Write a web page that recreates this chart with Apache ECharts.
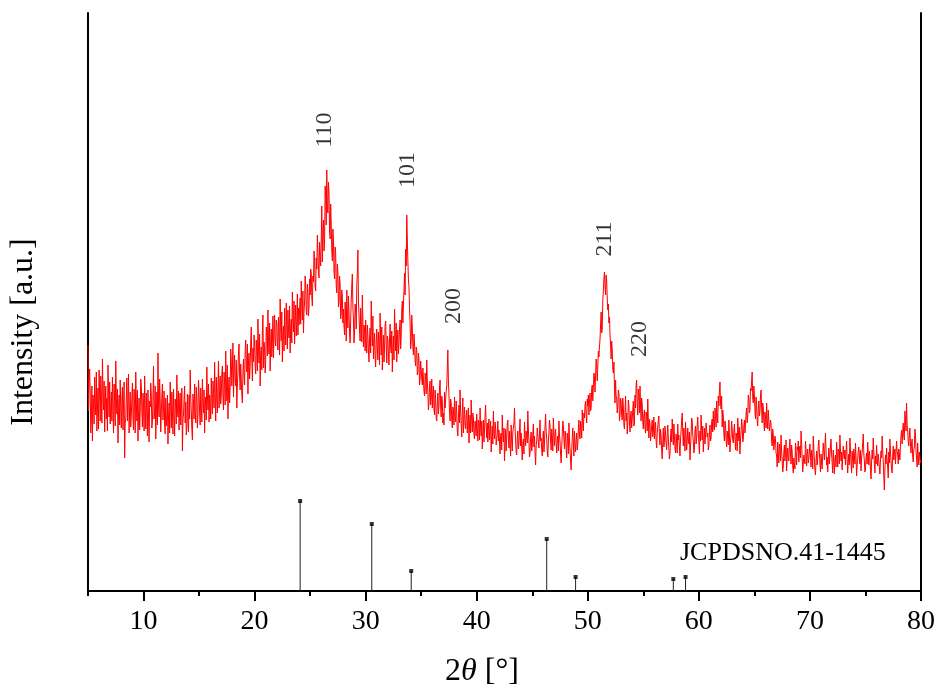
<!DOCTYPE html>
<html>
<head>
<meta charset="utf-8">
<script src="https://cdn.jsdelivr.net/npm/echarts@6/dist/echarts.min.js"></script>
<style>
  html, body { margin: 0; padding: 0; background: #fff; }
  #chart { width: 940px; height: 693px; }
</style>
</head>
<body>
<div id="chart"></div>
<script>
// XRD pattern, 2theta from 5 to 80 deg, one reading every 0.05 deg (one row = 1 deg)
var angleStart = 5;
var angleStep = 0.05;
var intensity = [
  246, 180, 208, 222, 195, 158, 172, 205, 150, 196, 188, 167, 214, 190, 176, 219, 160, 182, 203, 162,
  221, 197, 170, 215, 196, 168, 232, 199, 181, 210, 159, 184, 205, 172, 193, 160, 226, 201, 174, 209,
  167, 185, 199, 170, 214, 181, 158, 207, 190, 165, 230, 194, 177, 202, 148, 178, 196, 166, 211, 184,
  163, 192, 204, 161, 186, 209, 133, 168, 172, 195, 213, 170, 190, 217, 158, 183, 199, 164, 176, 193,
  208, 174, 161, 202, 185, 158, 219, 188, 170, 201, 150, 177, 193, 161, 178, 212, 206, 180, 164, 198,
  187, 160, 215, 184, 162, 198, 176, 155, 201, 173, 149, 190, 184, 208, 196, 163, 170, 194, 225, 172,
  181, 205, 152, 177, 199, 166, 238, 186, 174, 212, 190, 159, 160, 195, 207, 171, 183, 200, 166, 157,
  193, 165, 171, 196, 147, 174, 188, 158, 209, 185, 163, 199, 180, 157, 202, 178, 155, 192, 186, 167,
  216, 183, 174, 200, 161, 189, 198, 166, 182, 203, 140, 171, 177, 193, 205, 168, 189, 156, 165, 197,
  170, 159, 196, 172, 221, 193, 180, 162, 151, 197, 188, 172, 207, 181, 168, 204, 193, 163, 176, 211,
  199, 178, 166, 203, 185, 169, 212, 188, 178, 201, 158, 185, 194, 171, 224, 196, 181, 207, 169, 196,
  188, 172, 213, 193, 177, 210, 201, 183, 229, 197, 170, 214, 192, 178, 208, 230, 183, 199, 215, 187,
  196, 217, 225, 194, 181, 219, 208, 186, 240, 209, 190, 226, 172, 201, 214, 188, 203, 242, 231, 205,
  221, 248, 194, 220, 236, 210, 205, 231, 183, 207, 218, 239, 247, 215, 201, 227, 212, 196, 188, 219,
  232, 214, 206, 240, 251, 224, 219, 247, 197, 229, 238, 212, 226, 249, 264, 231, 210, 243, 229, 256,
  248, 226, 217, 251, 239, 220, 272, 243, 228, 257, 205, 236, 244, 221, 258, 276, 223, 249, 241, 218,
  230, 264, 256, 235, 281, 252, 237, 268, 220, 247, 262, 234, 249, 275, 233, 259, 276, 250, 245, 271,
  268, 249, 241, 274, 255, 236, 292, 263, 250, 279, 229, 256, 265, 240, 283, 257, 246, 288, 261, 242,
  281, 262, 253, 285, 238, 263, 272, 248, 299, 274, 259, 290, 247, 268, 286, 255, 270, 297, 256, 283,
  266, 281, 293, 267, 310, 286, 271, 300, 258, 279, 289, 315, 304, 280, 276, 307, 298, 275, 284, 312,
  296, 322, 318, 294, 285, 315, 309, 340, 331, 305, 300, 333, 322, 356, 341, 318, 313, 349, 336, 325,
  352, 385, 329, 361, 371, 340, 348, 405, 395, 366, 421, 382, 378, 409, 398, 360, 352, 387, 366, 341,
  330, 362, 351, 320, 312, 344, 338, 305, 298, 327, 319, 284, 289, 315, 306, 272, 277, 301, 295, 268,
  282, 265, 256, 289, 274, 250, 301, 277, 263, 295, 279, 257, 248, 271, 290, 306, 317, 284, 271, 248,
  259, 287, 280, 262, 305, 318, 341, 290, 276, 261, 250, 283, 268, 249, 296, 270, 244, 266, 262, 240,
  271, 251, 238, 266, 256, 240, 229, 252, 263, 238, 290, 262, 245, 275, 232, 247, 258, 233, 224, 249,
  262, 244, 231, 259, 249, 226, 278, 252, 236, 264, 221, 240, 256, 229, 243, 266, 270, 245, 228, 255,
  251, 236, 226, 252, 267, 244, 238, 260, 219, 243, 255, 231, 282, 258, 240, 268, 229, 250, 261, 237,
  248, 262, 271, 242, 256, 281, 290, 268, 286, 301, 318, 296, 342, 325, 376, 352, 330, 311, 304, 282,
  268, 242, 251, 276, 262, 245, 236, 257, 248, 230, 225, 244, 241, 216, 219, 238, 232, 206, 212, 230,
  228, 212, 206, 223, 221, 200, 195, 218, 214, 197, 231, 209, 199, 181, 188, 205, 210, 186, 194, 212,
  183, 196, 205, 182, 176, 201, 192, 173, 170, 189, 198, 177, 186, 203, 211, 185, 174, 195, 190, 168,
  178, 166, 199, 183, 182, 200, 205, 224, 241, 210, 196, 179, 170, 192, 188, 171, 163, 184, 181, 166,
  194, 176, 169, 190, 178, 160, 155, 174, 186, 168, 201, 180, 167, 154, 179, 193, 158, 172, 184, 166,
  162, 175, 181, 158, 170, 183, 148, 165, 176, 158, 191, 170, 159, 178, 173, 156, 152, 170, 168, 155,
  177, 162, 150, 171, 168, 151, 183, 164, 155, 170, 142, 158, 171, 149, 160, 175, 186, 165, 153, 168,
  149, 163, 172, 151, 158, 170, 139, 154, 165, 147, 180, 160, 152, 169, 163, 146, 144, 158, 170, 150,
  161, 149, 137, 155, 158, 141, 176, 157, 149, 163, 130, 146, 162, 140, 154, 167, 171, 152, 143, 160,
  148, 135, 166, 150, 140, 159, 157, 168, 183, 162, 151, 139, 136, 153, 160, 142, 147, 161, 172, 145,
  158, 143, 131, 148, 152, 137, 169, 155, 145, 160, 162, 148, 180, 161, 150, 134, 138, 153, 159, 140,
  146, 158, 167, 144, 155, 139, 126, 145, 150, 163, 164, 148, 143, 158, 171, 150, 153, 141, 135, 151,
  160, 139, 148, 165, 177, 159, 152, 140, 134, 150, 158, 171, 166, 149, 141, 162, 155, 140, 173, 156,
  145, 157, 162, 148, 138, 152, 155, 140, 170, 156, 149, 137, 128, 144, 157, 170, 164, 151, 142, 160,
  156, 142, 133, 158, 150, 137, 168, 152, 141, 130, 121, 140, 153, 163, 147, 135, 160, 149, 139, 150,
  158, 141, 146, 162, 171, 156, 152, 170, 165, 153, 181, 167, 160, 178, 173, 186, 190, 175, 168, 192,
  185, 196, 176, 189, 198, 180, 183, 202, 206, 190, 192, 218, 214, 199, 201, 232, 226, 210, 211, 240,
  234, 244, 252, 266, 279, 258, 262, 290, 301, 312, 319, 305, 296, 316, 310, 292, 281, 287, 268, 274,
  256, 247, 232, 250, 241, 222, 218, 229, 204, 188, 211, 195, 192, 178, 185, 201, 198, 170, 176, 193,
  190, 176, 171, 193, 184, 166, 162, 180, 195, 170, 178, 157, 167, 191, 186, 168, 159, 175, 180, 163,
  172, 181, 190, 165, 168, 196, 183, 207, 211, 188, 176, 202, 196, 178, 205, 184, 170, 193, 186, 169,
  162, 176, 181, 163, 158, 179, 175, 160, 192, 170, 153, 172, 167, 150, 148, 165, 171, 154, 160, 174,
  152, 164, 169, 150, 143, 158, 160, 171, 175, 155, 146, 162, 155, 141, 132, 149, 163, 144, 150, 165,
  158, 147, 141, 156, 166, 152, 150, 132, 137, 154, 162, 149, 172, 158, 146, 167, 155, 143, 138, 157,
  149, 138, 167, 151, 156, 143, 135, 152, 160, 171, 178, 158, 145, 163, 152, 140, 169, 155, 141, 150,
  163, 152, 147, 159, 131, 144, 156, 173, 170, 157, 150, 138, 142, 160, 165, 147, 153, 166, 174, 158,
  148, 137, 160, 150, 176, 162, 151, 165, 139, 152, 163, 147, 155, 168, 170, 154, 158, 141, 145, 159,
  166, 150, 153, 168, 172, 159, 180, 165, 161, 183, 176, 164, 190, 176, 168, 195, 185, 199, 209, 188,
  182, 195, 164, 181, 175, 158, 150, 170, 166, 152, 144, 160, 158, 146, 171, 156, 139, 150, 155, 170,
  162, 151, 148, 160, 167, 153, 141, 158, 155, 140, 173, 161, 150, 164, 137, 152, 159, 172, 166, 149,
  152, 165, 171, 158, 160, 177, 183, 168, 175, 196, 192, 178, 181, 203, 200, 210, 219, 193, 188, 205,
  196, 180, 172, 194, 185, 170, 165, 182, 190, 175, 179, 196, 201, 184, 168, 188, 183, 169, 160, 179,
  174, 163, 188, 172, 162, 181, 179, 160, 158, 171, 167, 150, 145, 162, 156, 141, 140, 155, 151, 138,
  135, 124, 149, 137, 128, 147, 142, 130, 156, 140, 131, 119, 124, 139, 146, 130, 138, 151, 120, 134,
  143, 134, 130, 144, 152, 138, 127, 146, 139, 125, 118, 133, 135, 122, 148, 137, 126, 144, 141, 150,
  129, 140, 145, 133, 160, 147, 133, 119, 121, 136, 138, 127, 150, 141, 125, 137, 142, 128, 132, 139,
  147, 135, 124, 141, 136, 122, 155, 143, 130, 121, 116, 131, 140, 126, 134, 145, 151, 139, 127, 119,
  137, 128, 122, 136, 148, 139, 131, 145, 158, 140, 126, 134, 119, 130, 143, 127, 135, 146, 152, 138,
  128, 118, 141, 129, 117, 132, 136, 124, 149, 137, 124, 142, 139, 127, 156, 141, 130, 139, 121, 133,
  145, 136, 132, 141, 126, 139, 150, 131, 118, 129, 137, 126, 153, 140, 129, 118, 140, 131, 123, 142,
  136, 127, 148, 134, 115, 126, 131, 140, 144, 135, 127, 141, 120, 133, 139, 148, 157, 138, 130, 119,
  122, 133, 138, 127, 149, 137, 126, 140, 134, 122, 112, 129, 141, 132, 153, 140, 128, 118, 135, 127,
  146, 134, 125, 137, 131, 124, 117, 130, 140, 133, 155, 142, 129, 115, 101, 122, 136, 127, 143, 131,
  124, 113, 139, 128, 152, 140, 130, 122, 118, 134, 145, 131, 133, 142, 127, 138, 150, 140, 136, 127,
  142, 137, 131, 146, 155, 161, 147, 158, 168, 155, 151, 180, 172, 160, 188, 166, 160, 150, 145, 156,
  163, 149, 138, 147, 152, 135, 129, 141, 144, 162, 157, 140, 133, 124, 148, 135, 126, 139, 141, 128,
  131
];

// reference pattern (JCPDS 41-1445)
var refAngles = [24.1, 30.55, 34.1, 46.3, 48.9, 57.7, 58.8];
var refHeights = [90, 67, 20, 52, 14, 12, 14];

// peak index labels
var peakNames = ['110', '101', '200', '211', '220'];
var peakAngles = [26.35, 33.8, 37.95, 51.55, 54.7];
var peakLabelY = [461, 421, 285, 352, 252];

var majorTicks = [10, 20, 30, 40, 50, 60, 70, 80];
var minorTicks = [5, 15, 25, 35, 45, 55, 65, 75];

var pattern = intensity.map(function (v, i) {
  return [+(angleStart + i * angleStep).toFixed(2), v];
});
var sticks = refAngles.map(function (a, i) { return [a, refHeights[i]]; });
var peaks = peakAngles.map(function (a, i) { return [a, peakLabelY[i], peakNames[i]]; });

var serif = '"Liberation Serif", "Times New Roman", serif';
var chart = echarts.init(document.getElementById('chart'));

chart.setOption({
  animation: false,
  backgroundColor: '#fff',
  grid: { left: 88, right: 19, top: 13, bottom: 102 },
  xAxis: [
    {
      type: 'value', min: 5, max: 80, position: 'bottom',
      axisLine: { show: true, onZero: false, lineStyle: { color: '#000', width: 2 } },
      axisTick: { show: true, inside: false, length: 10, customValues: majorTicks, lineStyle: { color: '#000', width: 2 } },
      axisLabel: { customValues: majorTicks, margin: 17, color: '#000', fontFamily: serif, fontSize: 28 },
      splitLine: { show: false }
    },
    {
      type: 'value', min: 5, max: 80, position: 'bottom',
      axisLine: { show: false },
      axisTick: { show: true, inside: false, length: 5, customValues: minorTicks, lineStyle: { color: '#000', width: 2 } },
      axisLabel: { show: false },
      splitLine: { show: false }
    },
    {
      type: 'value', min: 5, max: 80, position: 'top',
      axisLine: { show: true, lineStyle: { color: '#000', width: 2 } },
      axisTick: { show: false }, axisLabel: { show: false }, splitLine: { show: false }
    }
  ],
  yAxis: [
    {
      type: 'value', min: 0, max: 578, position: 'left',
      axisLine: { show: true, lineStyle: { color: '#000', width: 2 } },
      axisTick: { show: false }, axisLabel: { show: false }, splitLine: { show: false }
    },
    {
      type: 'value', min: 0, max: 578, position: 'right',
      axisLine: { show: true, lineStyle: { color: '#000', width: 2 } },
      axisTick: { show: false }, axisLabel: { show: false }, splitLine: { show: false }
    }
  ],
  series: [
    {
      name: 'XRD', type: 'line', data: pattern,
      showSymbol: false, symbol: 'none',
      lineStyle: { color: '#ff0000', width: 1 },
      z: 3
    },
    {
      name: 'JCPDS', type: 'bar', data: sticks, barWidth: 1,
      itemStyle: { color: '#222' }, z: 2
    },
    {
      name: 'JCPDS tops', type: 'scatter', data: sticks,
      symbol: 'rect', symbolSize: 4,
      itemStyle: { color: '#000' }, z: 4
    },
    {
      name: 'hkl', type: 'scatter', data: peaks,
      symbolSize: 0,
      label: {
        show: true, position: 'inside', rotate: 90,
        formatter: function (p) { return p.data[2]; },
        color: '#000', fontFamily: serif, fontSize: 24
      },
      z: 5
    }
  ],
  graphic: [
    {
      type: 'text', left: 680, top: 540,
      style: { text: 'JCPDSNO.41-1445', fill: '#000', font: '26px ' + serif }
    },
    {
      type: 'text', x: 24, y: 332, rotation: Math.PI / 2,
      style: { text: 'Intensity [a.u.]', fill: '#000', font: '32px ' + serif, align: 'center', verticalAlign: 'middle' }
    },
    {
      type: 'text', x: 482, y: 672,
      style: {
        text: '{n|2}{t|θ}{n| [°]}', align: 'center', verticalAlign: 'middle',
        rich: {
          n: { fontFamily: serif, fontSize: 32, fill: '#000', color: '#000' },
          t: { fontFamily: serif, fontSize: 32, fontStyle: 'italic', fill: '#000', color: '#000' }
        }
      }
    }
  ]
});
</script>
</body>
</html>
